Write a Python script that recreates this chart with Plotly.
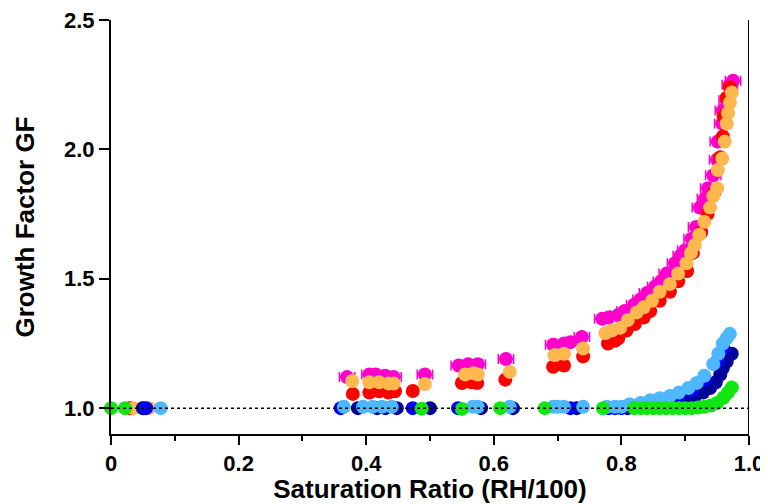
import plotly.graph_objects as go

# growth factor vs saturation ratio
magenta_x = [0.03, 0.05, 0.37, 0.405, 0.415, 0.43, 0.443, 0.492, 0.545, 0.56, 0.575, 0.619,
             0.693, 0.71, 0.72, 0.738, 0.77, 0.78, 0.795, 0.805, 0.82, 0.83, 0.84, 0.853,
             0.862, 0.871, 0.884, 0.893, 0.90, 0.91, 0.917, 0.923, 0.931, 0.936, 0.944,
             0.95, 0.951, 0.958, 0.959, 0.965, 0.97, 0.975]
magenta_y = [1.0, 1.0, 1.12, 1.13, 1.13, 1.125, 1.12, 1.13, 1.165, 1.17, 1.17, 1.19,
             1.245, 1.25, 1.255, 1.275, 1.345, 1.35, 1.36, 1.375, 1.40, 1.42, 1.445, 1.47,
             1.49, 1.52, 1.56, 1.59, 1.61, 1.655, 1.70, 1.775, 1.81, 1.85, 1.90,
             1.96, 2.03, 2.10, 2.15, 2.19, 2.25, 2.265]

red_x = [0.03, 0.379, 0.405, 0.42, 0.435, 0.445, 0.473, 0.55, 0.565, 0.574, 0.618,
         0.693, 0.71, 0.74, 0.779, 0.79, 0.795, 0.808, 0.821, 0.835, 0.845, 0.86, 0.876,
         0.889, 0.903, 0.912, 0.925, 0.935, 0.945, 0.955, 0.959, 0.96, 0.965, 0.97]
red_y = [1.0, 1.055, 1.06, 1.065, 1.06, 1.065, 1.066, 1.097, 1.10, 1.097, 1.11,
         1.16, 1.165, 1.20, 1.25, 1.26, 1.27, 1.30, 1.325, 1.35, 1.375, 1.415, 1.45,
         1.49, 1.53, 1.60, 1.68, 1.75, 1.83, 1.97, 2.05, 2.13, 2.20, 2.24]

orange_x = [0.035, 0.05, 0.06, 0.378, 0.405, 0.42, 0.435, 0.443, 0.492, 0.555, 0.568,
            0.575, 0.625, 0.695, 0.71, 0.74, 0.775, 0.785, 0.798, 0.81, 0.824, 0.835,
            0.848, 0.86, 0.876, 0.889, 0.902, 0.909, 0.915, 0.922, 0.93, 0.939, 0.944,
            0.95, 0.951, 0.958, 0.962, 0.965, 0.967, 0.97, 0.973]
orange_y = [1.0, 1.0, 1.0, 1.105, 1.10, 1.10, 1.095, 1.095, 1.093, 1.13, 1.135,
            1.13, 1.14, 1.205, 1.21, 1.23, 1.29, 1.30, 1.31, 1.34, 1.37, 1.39,
            1.415, 1.45, 1.48, 1.52, 1.56, 1.60, 1.63, 1.67, 1.72, 1.775, 1.82,
            1.85, 1.92, 1.965, 2.03, 2.10, 2.14, 2.18, 2.22]

navy_x = [0.05, 0.387, 0.417, 0.43, 0.448, 0.50, 0.58, 0.63, 0.73, 0.79, 0.81, 0.83,
          0.85, 0.87, 0.89, 0.903, 0.915, 0.928, 0.939, 0.948, 0.955, 0.959, 0.965, 0.973]
navy_y = [1.0, 1.0, 1.0, 1.0, 1.0, 1.0, 1.0, 1.0, 1.0, 1.0, 1.0, 1.005,
          1.01, 1.015, 1.022, 1.03, 1.045, 1.06, 1.078, 1.10, 1.13, 1.155, 1.18, 1.21]

blue_x = [0.055, 0.36, 0.473, 0.544, 0.72, 0.78, 0.80, 0.83, 0.86, 0.89, 0.91, 0.93, 0.95, 0.96]
blue_y = [1.0, 1.0, 1.0, 1.0, 1.0, 1.0, 1.0, 1.01, 1.025, 1.04, 1.07, 1.11, 1.18, 1.23]

lblue_x = [0.078, 0.365, 0.395, 0.41, 0.425, 0.44, 0.567, 0.575, 0.625, 0.693, 0.70,
           0.71, 0.74, 0.777, 0.79, 0.80, 0.813, 0.83, 0.845, 0.86, 0.876, 0.89, 0.905,
           0.918, 0.93, 0.944, 0.952, 0.959, 0.965, 0.97]
lblue_y = [1.0, 1.005, 1.005, 1.005, 1.005, 1.005, 1.005, 1.005, 1.005, 1.005, 1.005,
           1.005, 1.005, 1.005, 1.005, 1.005, 1.015, 1.02, 1.03, 1.038, 1.047, 1.06, 1.078,
           1.097, 1.125, 1.17, 1.21, 1.25, 1.27, 1.287]

green_x = [0.0, 0.022, 0.487, 0.55, 0.61, 0.68, 0.771, 0.82, 0.83, 0.84, 0.85, 0.86,
           0.87, 0.88, 0.89, 0.90, 0.91, 0.92, 0.93, 0.94, 0.95, 0.96, 0.967, 0.973]
green_y = [1.0, 1.0, 0.998, 0.997, 1.0, 1.0, 1.0, 1.0, 1.0, 1.0, 1.0, 1.0,
           1.0, 1.0, 1.0, 1.0, 1.0, 1.002, 1.005, 1.01, 1.02, 1.04, 1.06, 1.08]

xticks = [0, 0.2, 0.4, 0.6, 0.8, 1.0]
xticklabels = ['0', '0.2', '0.4', '0.6', '0.8', '1.0']
yticks = [1.0, 1.5, 2.0, 2.5]
yticklabels = ['1.0', '1.5', '2.0', '2.5']

series = [
    (magenta_x, magenta_y, '#FF00CC'),
    (red_x, red_y, '#FF0000'),
    (orange_x, orange_y, '#FFB84D'),
    (navy_x, navy_y, '#00009C'),
    (blue_x, blue_y, '#0000FF'),
    (lblue_x, lblue_y, '#4DB8FF'),
    (green_x, green_y, '#11E611'),
]

fig = go.Figure()
for i, (xs, ys, col) in enumerate(series):
    err = None
    if i == 0:
        err = dict(type='constant', value=0.012, color=col, thickness=1.5, width=5)
    fig.add_trace(go.Scatter(x=xs, y=ys, mode='markers', error_x=err,
                             marker=dict(color=col, size=14, line=dict(width=0)),
                             showlegend=False, cliponaxis=False))

fig.add_hline(y=1.0, line_dash='dot', line_color='black', line_width=1.5, layer='above')
# right frame line
fig.add_shape(type='line', xref='x', yref='paper', x0=1, x1=1, y0=0, y1=1,
              line=dict(color='black', width=2))

# page body has an 8px margin, so the figure is a bit smaller than the window
font = 'Liberation Sans, Arial, sans-serif'
fig.update_layout(
    width=760, height=496,
    margin=dict(l=103, r=19, t=12, b=70),
    plot_bgcolor='white', paper_bgcolor='white',
    font=dict(family=font, color='black'),
    xaxis=dict(range=[0, 1], tickvals=xticks, ticktext=xticklabels, automargin=False,
               ticklabeloverflow='allow',
               showgrid=False, zeroline=False, showline=True, linecolor='black', linewidth=2,
               ticks='outside', ticklen=9, tickwidth=2, tickcolor='black',
               minor=dict(dtick=0.1, ticks='outside', ticklen=5, tickwidth=2, tickcolor='black'),
               tickfont=dict(size=22, family=font, weight='bold'),
               title=dict(text='<b>Saturation Ratio (RH/100)</b>', font=dict(size=26, family=font),
                          standoff=0)),
    yaxis=dict(range=[0.9, 2.5], tickvals=yticks, ticktext=yticklabels, automargin=False,
               ticklabeloverflow='allow',
               showgrid=False, zeroline=False, showline=True, linecolor='black', linewidth=2,
               ticks='outside', ticklen=10, tickwidth=2, tickcolor='black',
               tickfont=dict(size=22, family=font, weight='bold'),
               title=dict(text='<b>Growth Factor GF</b>', font=dict(size=26, family=font),
                          standoff=22)),
)

fig.write_html("out.html")
